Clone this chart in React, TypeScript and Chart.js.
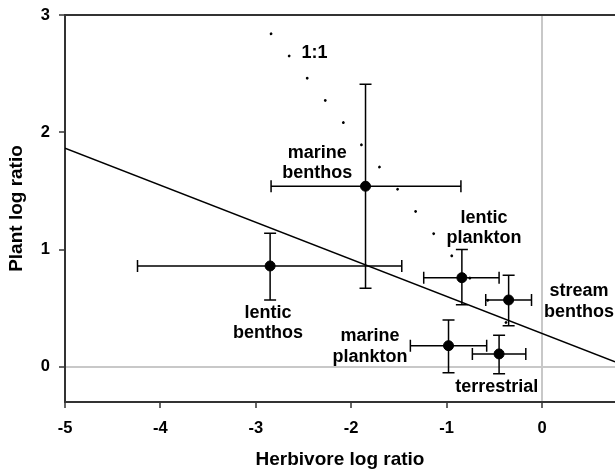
import React, { useEffect, useRef } from "react";
import { Chart, registerables } from "chart.js";

Chart.register(...registerables);

// ---- data ----
const groups = ["marine benthos", "lentic benthos", "lentic plankton", "stream benthos", "marine plankton", "terrestrial"];
const herbivoreLR = [-1.85, -2.85, -0.84, -0.35, -0.98, -0.45];
const plantLR = [1.54, 0.86, 0.76, 0.57, 0.18, 0.11];
const herbLow = [-2.84, -4.24, -1.24, -0.59, -1.38, -0.73];
const herbHigh = [-0.85, -1.47, -0.45, -0.11, -0.58, -0.17];
const plantLow = [0.67, 0.57, 0.53, 0.35, -0.05, -0.06];
const plantHigh = [2.41, 1.14, 1.0, 0.78, 0.4, 0.27];

const regIntercept = 0.285;
const regSlope = -0.316;
const oneToOneStart = -2.84;
const oneToOneEnd = -0.19;

const xTicks = [-5, -4, -3, -2, -1, 0];
const yTicks = [0, 1, 2, 3];
const xMin = -5;
const xMax = 0.765;
const yMin = -0.3;
const yMax = 3;

// label annotations (data units: center x, first-line baseline y)
const labelLines = [["marine", "benthos"], ["lentic", "benthos"], ["lentic", "plankton"], ["stream", "benthos"], ["marine", "plankton"], ["terrestrial"], ["1:1"]];
const labelX = [-2.355, -2.872, -0.608, 0.388, -1.803, -0.475, -2.385];
const labelY = [1.781, 0.418, 1.229, 0.603, 0.219, -0.213, 2.631];

const FONT = "'Liberation Sans', Arial, Helvetica, sans-serif";
const AXIS = "#333333";

const errorBarPlugin = {
  id: "errorBars",
  afterDatasetsDraw(chart: any) {
    const { ctx, scales } = chart;
    const xs = scales.x, ys = scales.y;
    const cap = 6;
    ctx.save();
    ctx.strokeStyle = "#000";
    ctx.lineWidth = 1.5;
    for (let i = 0; i < herbivoreLR.length; i++) {
      const px = xs.getPixelForValue(herbivoreLR[i]);
      const py = ys.getPixelForValue(plantLR[i]);
      const x1 = xs.getPixelForValue(herbLow[i]);
      const x2 = xs.getPixelForValue(herbHigh[i]);
      const y1 = ys.getPixelForValue(plantLow[i]);
      const y2 = ys.getPixelForValue(plantHigh[i]);
      ctx.beginPath();
      ctx.moveTo(x1, py); ctx.lineTo(x2, py);
      ctx.moveTo(x1, py - cap); ctx.lineTo(x1, py + cap);
      ctx.moveTo(x2, py - cap); ctx.lineTo(x2, py + cap);
      ctx.moveTo(px, y1); ctx.lineTo(px, y2);
      ctx.moveTo(px - cap, y1); ctx.lineTo(px + cap, y1);
      ctx.moveTo(px - cap, y2); ctx.lineTo(px + cap, y2);
      ctx.stroke();
    }
    ctx.restore();
  },
};

const labelPlugin = {
  id: "groupLabels",
  afterDatasetsDraw(chart: any) {
    const { ctx, scales } = chart;
    ctx.save();
    ctx.fillStyle = "#000";
    ctx.font = `bold 18px ${FONT}`;
    ctx.textAlign = "center";
    ctx.textBaseline = "alphabetic";
    for (let i = 0; i < labelLines.length; i++) {
      const cx = scales.x.getPixelForValue(labelX[i]);
      const by = scales.y.getPixelForValue(labelY[i]);
      labelLines[i].forEach((t, j) => ctx.fillText(t, cx, by + j * 20.5));
    }
    ctx.restore();
  },
};

export default function App() {
  const ref = useRef<HTMLCanvasElement>(null);
  useEffect(() => {
    if (!ref.current) return;
    const chart = new Chart(ref.current, {
      type: "scatter",
      data: {
        datasets: [
          {
            label: "groups",
            data: herbivoreLR.map((x, i) => ({ x, y: plantLR[i] })),
            backgroundColor: "#000",
            borderColor: "#000",
            pointRadius: 5,
            pointHoverRadius: 5,
          },
          {
            label: "regression",
            type: "line",
            data: [
              { x: xMin, y: regIntercept + regSlope * xMin },
              { x: xMax, y: regIntercept + regSlope * xMax },
            ],
            borderColor: "#000",
            borderWidth: 1.5,
            pointRadius: 0,
            fill: false,
          },
          {
            label: "1:1",
            type: "line",
            data: [
              { x: oneToOneStart, y: -oneToOneStart },
              { x: oneToOneEnd, y: -oneToOneEnd },
            ],
            borderColor: "#000",
            borderWidth: 2.8,
            borderCapStyle: "round",
            borderDash: [0.01, 28.62],
            pointRadius: 0,
            fill: false,
          },
        ] as any,
      },
      options: {
        animation: false,
        responsive: false,
        devicePixelRatio: 1,
        layout: { autoPadding: false, padding: { top: 15, right: 0, left: 0, bottom: 0 } },
        plugins: { legend: { display: false }, tooltip: { enabled: false } },
        scales: {
          x: {
            type: "linear",
            min: xMin,
            max: xMax,
            afterBuildTicks: (s: any) => { s.ticks = xTicks.map((v) => ({ value: v })); },
            afterFit: (s: any) => { s.height = 69; s.paddingLeft = 0; s.paddingRight = 0; },
            grid: {
              drawOnChartArea: true,
              color: (c: any) => (c.tick && c.tick.value === 0 ? "#c8c8c8" : "rgba(0,0,0,0)"),
              lineWidth: 2,
              tickColor: AXIS,
              tickWidth: 1.5,
              tickLength: 6,
            },
            border: { color: AXIS, width: 2 },
            ticks: {
              color: "#000",
              font: { family: FONT, size: 16.5, weight: "bold" },
              padding: 11,
              maxRotation: 0,
            },
            title: {
              display: true,
              text: "Herbivore log ratio",
              color: "#000",
              font: { family: FONT, size: 19, weight: "bold" },
              padding: { top: 0, bottom: 0 },
            },
          },
          y: {
            type: "linear",
            min: yMin,
            max: yMax,
            afterBuildTicks: (s: any) => { s.ticks = yTicks.map((v) => ({ value: v })); },
            afterFit: (s: any) => { s.width = 65; s.paddingTop = 0; s.paddingBottom = 0; },
            grid: {
              drawOnChartArea: true,
              color: (c: any) =>
                c.tick && c.tick.value === 0 ? "#c8c8c8" : c.tick && c.tick.value === 3 ? AXIS : "rgba(0,0,0,0)",
              lineWidth: 2,
              tickColor: AXIS,
              tickWidth: 1.5,
              tickLength: 6,
            },
            border: { color: AXIS, width: 2 },
            ticks: {
              color: "#000",
              font: { family: FONT, size: 16.5, weight: "bold" },
              padding: 9,
            },
            title: {
              display: true,
              text: "Plant log ratio",
              color: "#000",
              font: { family: FONT, size: 19, weight: "bold" },
              padding: { top: 5, bottom: 0 },
            },
          },
        },
      } as any,
      plugins: [errorBarPlugin, labelPlugin],
    });
    return () => chart.destroy();
  }, []);
  return (
    <div style={{ position: "absolute", left: 0, top: 0, width: 615, height: 471, background: "#fff" }}>
      <canvas ref={ref} width={615} height={471} />
    </div>
  );
}
